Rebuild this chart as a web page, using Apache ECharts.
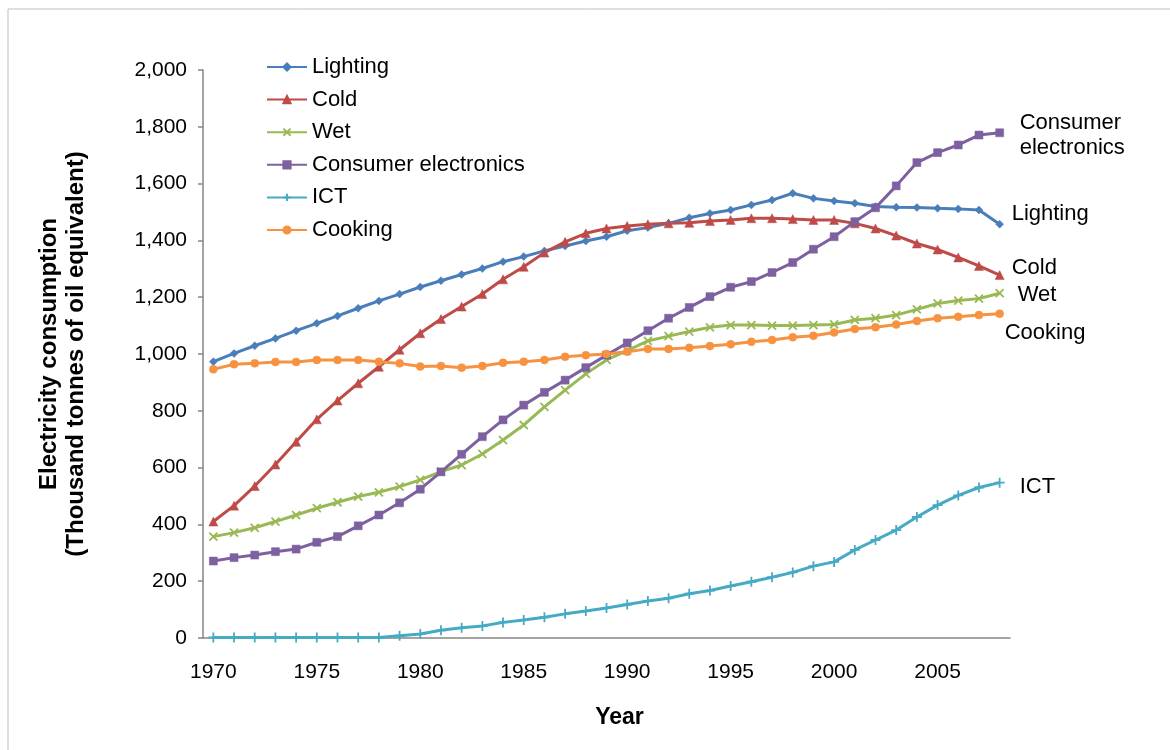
<!DOCTYPE html>
<html>
<head>
<meta charset="utf-8">
<script src="https://cdn.jsdelivr.net/npm/echarts@6/dist/echarts.min.js"></script>
<style>
  html, body { margin: 0; padding: 0; background: #fff; }
  #chart { width: 1170px; height: 750px; }
</style>
</head>
<body>
<div id="chart"></div>
<script>
// Domestic electricity consumption by end use, 1970-2008
const years = [];
for (let y = 1970; y <= 2008; y++) years.push(String(y));

const lighting = [973, 1002, 1029, 1055, 1082, 1108, 1134, 1161, 1187, 1211, 1236,
  1258, 1280, 1301, 1325, 1343, 1363, 1380, 1398, 1413, 1434,
  1445, 1460, 1480, 1495, 1507, 1525, 1542, 1566, 1548,
  1539, 1531, 1519, 1517, 1516, 1513, 1511, 1507, 1457];

const cold = [410, 466, 535, 611, 691, 770, 836, 897, 955, 1015, 1073,
  1123, 1167, 1211, 1263, 1307, 1357, 1395, 1425, 1442, 1451,
  1457, 1460, 1462, 1468, 1472, 1478, 1478, 1475, 1472,
  1472, 1460, 1442, 1417, 1389, 1368, 1340, 1310, 1278];

const wet = [357, 371, 388, 410, 433, 457, 478, 498, 513, 533, 557,
  586, 609, 648, 697, 750, 814, 873, 930, 979, 1012,
  1046, 1063, 1079, 1094, 1102, 1102, 1100, 1100, 1102,
  1104, 1120, 1126, 1137, 1157, 1178, 1188, 1195, 1214];

const consumerElectronics = [271, 283, 292, 304, 313, 337, 357, 395, 433, 476, 524,
  585, 647, 709, 768, 820, 865, 908, 952, 996, 1039,
  1082, 1126, 1164, 1202, 1235, 1255, 1287, 1322, 1369,
  1413, 1466, 1515, 1592, 1674, 1709, 1736, 1771, 1779];

const ict = [2, 2, 2, 2, 2, 2, 2, 2, 2, 8, 14,
  27, 36, 42, 55, 63, 73, 85, 95, 106, 118,
  130, 140, 156, 167, 183, 198, 214, 231, 253,
  268, 310, 345, 380, 426, 468, 502, 530, 547];

const cooking = [946, 964, 967, 972, 972, 979, 979, 979, 973, 967, 956,
  958, 952, 958, 969, 973, 979, 990, 996, 1000, 1008,
  1018, 1018, 1022, 1028, 1034, 1043, 1049, 1059, 1064,
  1076, 1088, 1094, 1104, 1116, 1126, 1131, 1137, 1142];

const FONT = '"Liberation Sans", Arial, sans-serif';

const CROSS = 'path://M0,0L10,10M10,0L0,10';
const PLUS = 'path://M5,0L5,10M0,5L10,5';

function makeSeries(name, data, color, symbol, size, endText, offset, stroked) {
  return {
    name: name,
    type: 'line',
    data: data,
    symbol: symbol,
    symbolSize: size,
    showAllSymbol: true,
    lineStyle: { color: color, width: 3 },
    itemStyle: {
      color: stroked ? 'none' : color,
      borderColor: color,
      borderWidth: stroked ? 1.8 : 0.5
    },
    endLabel: {
      show: true,
      formatter: endText,
      color: '#000',
      fontFamily: FONT,
      fontSize: 22,
      lineHeight: 25,
      distance: 0,
      offset: offset,
      align: 'left',
      verticalAlign: 'middle'
    },
    emphasis: { disabled: true }
  };
}

const chart = echarts.init(document.getElementById('chart'), null, { renderer: 'canvas' });

chart.setOption({
  animation: false,
  backgroundColor: '#ffffff',
  graphic: [{
    type: 'rect',
    shape: { x: 8, y: 9, width: 1300, height: 900 },
    style: { fill: 'none', stroke: '#bfbfbf', lineWidth: 1 },
    silent: true
  }],
  grid: { left: 203, right: 160, top: 70, bottom: 112, containLabel: false },
  legend: {
    orient: 'vertical',
    left: 261,
    top: 51,
    itemWidth: 40,
    itemHeight: 9,
    itemGap: 10.6,
    selectedMode: false,
    textStyle: { fontFamily: FONT, fontSize: 22, lineHeight: 22, color: '#000' },
    data: ['Lighting', 'Cold', 'Wet', 'Consumer electronics', 'ICT', 'Cooking']
  },
  xAxis: {
    type: 'category',
    data: years,
    boundaryGap: true,
    name: 'Year',
    nameLocation: 'middle',
    nameGap: 68,
    nameTextStyle: { fontFamily: FONT, fontSize: 23, fontWeight: 'bold', color: '#000', padding: [0, 0, 0, 26] },
    axisLine: { lineStyle: { color: '#868686', width: 1.5 } },
    axisTick: { show: false },
    axisLabel: {
      interval: 4,
      margin: 24,
      fontFamily: FONT,
      fontSize: 21,
      color: '#000'
    },
    splitLine: { show: false }
  },
  yAxis: {
    type: 'value',
    min: 0,
    max: 2000,
    interval: 200,
    name: 'Electricity consumption\n(Thousand tonnes of oil equivalent)',
    nameLocation: 'middle',
    nameRotate: 90,
    nameGap: 113,
    nameTextStyle: { fontFamily: FONT, fontSize: 24, fontWeight: 'bold', lineHeight: 27, color: '#000' },
    axisLine: { show: true, lineStyle: { color: '#868686', width: 1.5 } },
    axisTick: { show: true, length: 5, lineStyle: { color: '#868686', width: 1.5 } },
    axisLabel: {
      margin: 16,
      fontFamily: FONT,
      fontSize: 21,
      color: '#000',
      formatter: function (v) { return v.toLocaleString('en-US'); }
    },
    splitLine: { show: false }
  },
  series: [
    makeSeries('Lighting', lighting, '#4A7EBB', 'diamond', 8, 'Lighting', [12, -10], false),
    makeSeries('Cold', cold, '#BE4B48', 'triangle', 9, 'Cold', [12, -7], false),
    makeSeries('Wet', wet, '#98B954', CROSS, 8, 'Wet', [18, 2], true),
    makeSeries('Consumer electronics', consumerElectronics, '#7D60A0', 'rect', 8, 'Consumer\nelectronics', [20, 3], false),
    makeSeries('ICT', ict, '#46AAC5', PLUS, 10, 'ICT', [20, 4], true),
    makeSeries('Cooking', cooking, '#F69240', 'circle', 8, 'Cooking', [5, 19], false)
  ]
});
</script>
</body>
</html>
